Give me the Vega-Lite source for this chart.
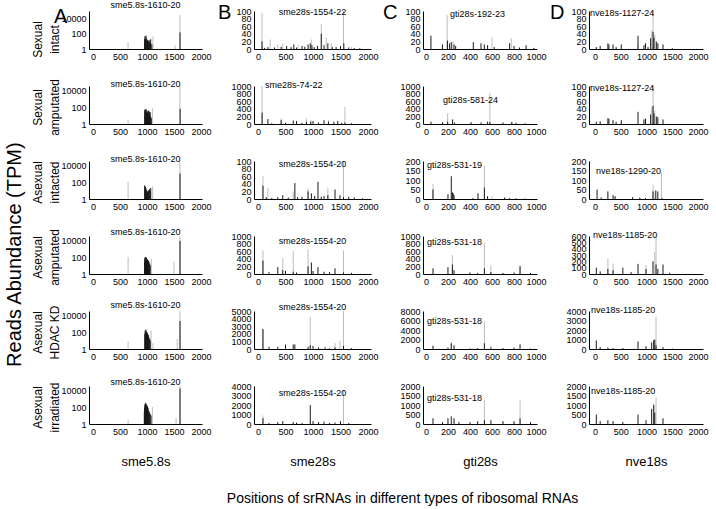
{
"$schema": "https://vega.github.io/schema/vega-lite/v6.json",
"padding": {"left": 4, "top": 1, "right": 2, "bottom": 2},
"config": {
  "font": "Liberation Sans",
  "view": {"stroke": null},
  "axis": {"grid": false, "ticks": false, "labelFontSize": 9, "labelPadding": 3, "domainColor": "#000", "labelColor": "#000", "titleColor": "#000", "titleFontWeight": "normal", "labelOverlap": false, "labelFlush": false, "labelFont": "Liberation Sans", "titleFont": "Liberation Sans", "format": "d"},
  "axisY": {"titleFontSize": 12, "titleLineHeight": 17, "titleX": -52, "titleY": 21, "titleAlign": "center", "titleBaseline": "middle", "titleAngle": 270},
  "axisX": {"titleFontSize": 13, "titlePadding": 19},
  "title": {"fontSize": 9, "fontWeight": "normal", "color": "#000", "font": "Liberation Sans"}
},
"datasets": {
"A1": [{"x":650,"y":8,"s":"g"},{"x":1075,"y":25,"s":"g"},{"x":1110,"y":45,"s":"g"},{"x":1520,"y":3,"s":"g"},{"x":1610,"y":30000,"s":"g"},
 {"x":955,"y":20,"s":"k"},{"x":962,"y":50,"s":"k"},{"x":968,"y":15,"s":"k"},{"x":975,"y":30,"s":"k"},{"x":982,"y":60,"s":"k"},{"x":988,"y":12,"s":"k"},{"x":995,"y":25,"s":"k"},{"x":1002,"y":8,"s":"k"},{"x":1010,"y":15,"s":"k"},{"x":1018,"y":6,"s":"k"},{"x":1025,"y":12,"s":"k"},{"x":1032,"y":10,"s":"k"},{"x":1040,"y":14,"s":"k"},{"x":1048,"y":5,"s":"k"},{"x":1055,"y":8,"s":"k"},{"x":1062,"y":18,"s":"k"},{"x":1070,"y":6,"s":"k"},{"x":1090,"y":4,"s":"k"},{"x":1612,"y":150,"s":"k"}],
"A2": [{"x":650,"y":3,"s":"g"},{"x":1100,"y":70,"s":"g"},{"x":1610,"y":30000,"s":"g"},
 {"x":958,"y":40,"s":"k"},{"x":963,"y":55,"s":"k"},{"x":970,"y":25,"s":"k"},{"x":977,"y":45,"s":"k"},{"x":984,"y":60,"s":"k"},{"x":990,"y":20,"s":"k"},{"x":996,"y":35,"s":"k"},{"x":1003,"y":15,"s":"k"},{"x":1010,"y":30,"s":"k"},{"x":1017,"y":25,"s":"k"},{"x":1024,"y":40,"s":"k"},{"x":1031,"y":20,"s":"k"},{"x":1038,"y":15,"s":"k"},{"x":1045,"y":30,"s":"k"},{"x":1052,"y":10,"s":"k"},{"x":1060,"y":25,"s":"k"},{"x":1068,"y":8,"s":"k"},{"x":1080,"y":5,"s":"k"},{"x":1614,"y":60,"s":"k"}],
"A3": [{"x":650,"y":100,"s":"g"},{"x":1105,"y":30,"s":"g"},{"x":1610,"y":30000,"s":"g"},
 {"x":958,"y":40,"s":"k"},{"x":963,"y":25,"s":"k"},{"x":968,"y":30,"s":"k"},{"x":974,"y":15,"s":"k"},{"x":980,"y":20,"s":"k"},{"x":987,"y":10,"s":"k"},{"x":993,"y":12,"s":"k"},{"x":1000,"y":6,"s":"k"},{"x":1010,"y":8,"s":"k"},{"x":1020,"y":5,"s":"k"},{"x":1030,"y":10,"s":"k"},{"x":1040,"y":12,"s":"k"},{"x":1050,"y":15,"s":"k"},{"x":1060,"y":8,"s":"k"},{"x":1070,"y":20,"s":"k"},{"x":1612,"y":1000,"s":"k"}],
"A4": [{"x":650,"y":100,"s":"g"},{"x":1080,"y":60,"s":"g"},{"x":1500,"y":30,"s":"g"},{"x":1610,"y":30000,"s":"g"},
 {"x":955,"y":30,"s":"k"},{"x":960,"y":80,"s":"k"},{"x":965,"y":50,"s":"k"},{"x":970,"y":100,"s":"k"},{"x":975,"y":40,"s":"k"},{"x":980,"y":70,"s":"k"},{"x":985,"y":30,"s":"k"},{"x":990,"y":90,"s":"k"},{"x":995,"y":40,"s":"k"},{"x":1000,"y":60,"s":"k"},{"x":1005,"y":25,"s":"k"},{"x":1010,"y":50,"s":"k"},{"x":1015,"y":30,"s":"k"},{"x":1020,"y":40,"s":"k"},{"x":1025,"y":20,"s":"k"},{"x":1030,"y":35,"s":"k"},{"x":1040,"y":25,"s":"k"},{"x":1050,"y":15,"s":"k"},{"x":1060,"y":10,"s":"k"},{"x":1612,"y":8000,"s":"k"}],
"A5": [{"x":650,"y":8,"s":"g"},{"x":1075,"y":150,"s":"g"},{"x":1110,"y":5,"s":"g"},{"x":1560,"y":15,"s":"g"},{"x":1610,"y":30000,"s":"g"},
 {"x":960,"y":60,"s":"k"},{"x":965,"y":150,"s":"k"},{"x":970,"y":40,"s":"k"},{"x":975,"y":100,"s":"k"},{"x":980,"y":200,"s":"k"},{"x":985,"y":80,"s":"k"},{"x":990,"y":120,"s":"k"},{"x":995,"y":50,"s":"k"},{"x":1000,"y":90,"s":"k"},{"x":1005,"y":40,"s":"k"},{"x":1010,"y":70,"s":"k"},{"x":1015,"y":30,"s":"k"},{"x":1020,"y":50,"s":"k"},{"x":1025,"y":25,"s":"k"},{"x":1030,"y":40,"s":"k"},{"x":1040,"y":20,"s":"k"},{"x":1050,"y":15,"s":"k"},{"x":1060,"y":10,"s":"k"},{"x":1612,"y":2000,"s":"k"}],
"A6": [{"x":650,"y":3,"s":"g"},{"x":1100,"y":100,"s":"g"},{"x":1540,"y":5,"s":"g"},{"x":1610,"y":30000,"s":"g"},
 {"x":950,"y":30,"s":"k"},{"x":955,"y":80,"s":"k"},{"x":960,"y":200,"s":"k"},{"x":965,"y":100,"s":"k"},{"x":970,"y":300,"s":"k"},{"x":975,"y":150,"s":"k"},{"x":980,"y":250,"s":"k"},{"x":985,"y":90,"s":"k"},{"x":990,"y":200,"s":"k"},{"x":995,"y":80,"s":"k"},{"x":1000,"y":150,"s":"k"},{"x":1005,"y":60,"s":"k"},{"x":1010,"y":120,"s":"k"},{"x":1015,"y":50,"s":"k"},{"x":1020,"y":80,"s":"k"},{"x":1030,"y":40,"s":"k"},{"x":1040,"y":30,"s":"k"},{"x":1050,"y":20,"s":"k"},{"x":1060,"y":15,"s":"k"},{"x":1075,"y":10,"s":"k"},{"x":1612,"y":15000,"s":"k"}],
"B1": [{"x":73,"y":95,"s":"g"},{"x":220,"y":25,"s":"g"},{"x":360,"y":12,"s":"g"},{"x":450,"y":15,"s":"g"},{"x":730,"y":10,"s":"g"},{"x":970,"y":25,"s":"g"},{"x":1150,"y":65,"s":"g"},{"x":1240,"y":30,"s":"g"},{"x":1330,"y":15,"s":"g"},{"x":1554,"y":140,"s":"g"},{"x":1700,"y":5,"s":"g"},
 {"x":73,"y":20,"s":"k"},{"x":120,"y":3,"s":"k"},{"x":180,"y":5,"s":"k"},{"x":300,"y":4,"s":"k"},{"x":420,"y":6,"s":"k"},{"x":520,"y":8,"s":"k"},{"x":600,"y":5,"s":"k"},{"x":650,"y":12,"s":"k"},{"x":700,"y":4,"s":"k"},{"x":800,"y":8,"s":"k"},{"x":850,"y":6,"s":"k"},{"x":910,"y":12,"s":"k"},{"x":950,"y":15,"s":"k"},{"x":980,"y":10,"s":"k"},{"x":1020,"y":5,"s":"k"},{"x":1080,"y":8,"s":"k"},{"x":1150,"y":40,"s":"k"},{"x":1200,"y":10,"s":"k"},{"x":1270,"y":15,"s":"k"},{"x":1350,"y":5,"s":"k"},{"x":1420,"y":5,"s":"k"},{"x":1500,"y":8,"s":"k"},{"x":1560,"y":15,"s":"k"},{"x":1650,"y":4,"s":"k"},{"x":1750,"y":3,"s":"k"},{"x":1850,"y":2,"s":"k"}],
"B2": [{"x":74,"y":1000,"s":"g"},{"x":420,"y":150,"s":"g"},{"x":880,"y":150,"s":"g"},{"x":960,"y":100,"s":"g"},{"x":1280,"y":110,"s":"g"},{"x":1580,"y":450,"s":"g"},
 {"x":74,"y":300,"s":"k"},{"x":180,"y":130,"s":"k"},{"x":250,"y":20,"s":"k"},{"x":420,"y":100,"s":"k"},{"x":500,"y":30,"s":"k"},{"x":640,"y":90,"s":"k"},{"x":700,"y":80,"s":"k"},{"x":800,"y":30,"s":"k"},{"x":880,"y":60,"s":"k"},{"x":960,"y":60,"s":"k"},{"x":1000,"y":80,"s":"k"},{"x":1100,"y":40,"s":"k"},{"x":1200,"y":100,"s":"k"},{"x":1280,"y":60,"s":"k"},{"x":1380,"y":60,"s":"k"},{"x":1450,"y":80,"s":"k"},{"x":1520,"y":30,"s":"k"},{"x":1580,"y":40,"s":"k"},{"x":1700,"y":20,"s":"k"}],
"B3": [{"x":90,"y":60,"s":"g"},{"x":180,"y":30,"s":"g"},{"x":640,"y":20,"s":"g"},{"x":910,"y":28,"s":"g"},{"x":1270,"y":28,"s":"g"},{"x":1554,"y":100,"s":"g"},
 {"x":90,"y":35,"s":"k"},{"x":150,"y":5,"s":"k"},{"x":250,"y":3,"s":"k"},{"x":360,"y":5,"s":"k"},{"x":450,"y":10,"s":"k"},{"x":550,"y":4,"s":"k"},{"x":670,"y":42,"s":"k"},{"x":720,"y":5,"s":"k"},{"x":800,"y":6,"s":"k"},{"x":910,"y":20,"s":"k"},{"x":970,"y":15,"s":"k"},{"x":1030,"y":8,"s":"k"},{"x":1090,"y":45,"s":"k"},{"x":1150,"y":6,"s":"k"},{"x":1200,"y":8,"s":"k"},{"x":1270,"y":10,"s":"k"},{"x":1400,"y":25,"s":"k"},{"x":1490,"y":10,"s":"k"},{"x":1554,"y":5,"s":"k"},{"x":1650,"y":6,"s":"k"},{"x":1750,"y":4,"s":"k"},{"x":1900,"y":2,"s":"k"}],
"B4": [{"x":90,"y":620,"s":"g"},{"x":450,"y":420,"s":"g"},{"x":640,"y":600,"s":"g"},{"x":910,"y":650,"s":"g"},{"x":1554,"y":620,"s":"g"},
 {"x":90,"y":350,"s":"k"},{"x":200,"y":50,"s":"k"},{"x":360,"y":180,"s":"k"},{"x":450,"y":100,"s":"k"},{"x":500,"y":80,"s":"k"},{"x":640,"y":60,"s":"k"},{"x":700,"y":40,"s":"k"},{"x":910,"y":200,"s":"k"},{"x":970,"y":300,"s":"k"},{"x":1000,"y":80,"s":"k"},{"x":1090,"y":180,"s":"k"},{"x":1200,"y":60,"s":"k"},{"x":1300,"y":50,"s":"k"},{"x":1400,"y":150,"s":"k"},{"x":1554,"y":40,"s":"k"},{"x":1700,"y":30,"s":"k"}],
"B5": [{"x":90,"y":2700,"s":"g"},{"x":950,"y":4200,"s":"g"},{"x":1400,"y":800,"s":"g"},{"x":1490,"y":1100,"s":"g"},{"x":1554,"y":5000,"s":"g"},
 {"x":90,"y":2600,"s":"k"},{"x":200,"y":300,"s":"k"},{"x":360,"y":300,"s":"k"},{"x":500,"y":600,"s":"k"},{"x":640,"y":600,"s":"k"},{"x":670,"y":600,"s":"k"},{"x":910,"y":300,"s":"k"},{"x":950,"y":500,"s":"k"},{"x":1000,"y":400,"s":"k"},{"x":1100,"y":200,"s":"k"},{"x":1220,"y":200,"s":"k"},{"x":1300,"y":100,"s":"k"},{"x":1400,"y":200,"s":"k"},{"x":1554,"y":400,"s":"k"},{"x":1700,"y":100,"s":"k"}],
"B6": [{"x":90,"y":900,"s":"g"},{"x":950,"y":400,"s":"g"},{"x":1554,"y":3600,"s":"g"},
 {"x":90,"y":600,"s":"k"},{"x":200,"y":100,"s":"k"},{"x":360,"y":200,"s":"k"},{"x":450,"y":300,"s":"k"},{"x":640,"y":200,"s":"k"},{"x":700,"y":150,"s":"k"},{"x":800,"y":100,"s":"k"},{"x":950,"y":2000,"s":"k"},{"x":1000,"y":300,"s":"k"},{"x":1100,"y":200,"s":"k"},{"x":1200,"y":250,"s":"k"},{"x":1300,"y":100,"s":"k"},{"x":1400,"y":150,"s":"k"},{"x":1500,"y":300,"s":"k"},{"x":1650,"y":100,"s":"k"}],
"C1": [{"x":192,"y":90,"s":"g"},{"x":245,"y":20,"s":"g"},{"x":600,"y":30,"s":"g"},{"x":775,"y":28,"s":"g"},
 {"x":45,"y":35,"s":"k"},{"x":150,"y":12,"s":"k"},{"x":195,"y":22,"s":"k"},{"x":215,"y":15,"s":"k"},{"x":230,"y":18,"s":"k"},{"x":255,"y":12,"s":"k"},{"x":270,"y":8,"s":"k"},{"x":430,"y":18,"s":"k"},{"x":500,"y":15,"s":"k"},{"x":530,"y":12,"s":"k"},{"x":560,"y":10,"s":"k"},{"x":620,"y":5,"s":"k"},{"x":760,"y":15,"s":"k"},{"x":800,"y":8,"s":"k"},{"x":850,"y":4,"s":"k"},{"x":910,"y":10,"s":"k"},{"x":980,"y":3,"s":"k"}],
"C2": [{"x":197,"y":280,"s":"g"},{"x":581,"y":820,"s":"g"},{"x":780,"y":70,"s":"g"},
 {"x":45,"y":60,"s":"k"},{"x":150,"y":50,"s":"k"},{"x":197,"y":60,"s":"k"},{"x":242,"y":120,"s":"k"},{"x":260,"y":40,"s":"k"},{"x":410,"y":50,"s":"k"},{"x":500,"y":40,"s":"k"},{"x":560,"y":60,"s":"k"},{"x":581,"y":50,"s":"k"},{"x":700,"y":40,"s":"k"},{"x":780,"y":50,"s":"k"},{"x":818,"y":30,"s":"k"},{"x":900,"y":20,"s":"k"}],
"C3": [{"x":64,"y":80,"s":"g"},{"x":531,"y":175,"s":"g"},{"x":600,"y":15,"s":"g"},
 {"x":64,"y":50,"s":"k"},{"x":200,"y":25,"s":"k"},{"x":230,"y":120,"s":"k"},{"x":240,"y":35,"s":"k"},{"x":248,"y":30,"s":"k"},{"x":255,"y":20,"s":"k"},{"x":427,"y":5,"s":"k"},{"x":473,"y":30,"s":"k"},{"x":531,"y":60,"s":"k"},{"x":560,"y":15,"s":"k"},{"x":715,"y":8,"s":"k"},{"x":760,"y":5,"s":"k"},{"x":818,"y":4,"s":"k"},{"x":900,"y":3,"s":"k"}],
"C4": [{"x":240,"y":500,"s":"g"},{"x":531,"y":820,"s":"g"},{"x":590,"y":230,"s":"g"},{"x":855,"y":220,"s":"g"},
 {"x":64,"y":150,"s":"k"},{"x":200,"y":180,"s":"k"},{"x":240,"y":250,"s":"k"},{"x":255,"y":100,"s":"k"},{"x":400,"y":40,"s":"k"},{"x":470,"y":30,"s":"k"},{"x":531,"y":150,"s":"k"},{"x":590,"y":50,"s":"k"},{"x":700,"y":30,"s":"k"},{"x":800,"y":40,"s":"k"},{"x":855,"y":200,"s":"k"},{"x":950,"y":30,"s":"k"}],
"C5": [{"x":230,"y":1500,"s":"g"},{"x":531,"y":5800,"s":"g"},{"x":590,"y":800,"s":"g"},
 {"x":64,"y":700,"s":"k"},{"x":200,"y":300,"s":"k"},{"x":230,"y":1200,"s":"k"},{"x":255,"y":800,"s":"k"},{"x":400,"y":100,"s":"k"},{"x":470,"y":200,"s":"k"},{"x":531,"y":1200,"s":"k"},{"x":590,"y":300,"s":"k"},{"x":700,"y":200,"s":"k"},{"x":800,"y":300,"s":"k"},{"x":855,"y":1000,"s":"k"},{"x":950,"y":100,"s":"k"}],
"C6": [{"x":531,"y":1250,"s":"g"},{"x":855,"y":1250,"s":"g"},
 {"x":64,"y":300,"s":"k"},{"x":150,"y":100,"s":"k"},{"x":200,"y":300,"s":"k"},{"x":230,"y":400,"s":"k"},{"x":255,"y":300,"s":"k"},{"x":300,"y":100,"s":"k"},{"x":400,"y":100,"s":"k"},{"x":470,"y":150,"s":"k"},{"x":531,"y":200,"s":"k"},{"x":590,"y":200,"s":"k"},{"x":700,"y":150,"s":"k"},{"x":800,"y":150,"s":"k"},{"x":855,"y":300,"s":"k"},{"x":950,"y":100,"s":"k"}],
"D1": [{"x":835,"y":10,"s":"g"},{"x":1100,"y":50,"s":"g"},{"x":1127,"y":100,"s":"g"},{"x":1160,"y":38,"s":"g"},
 {"x":25,"y":5,"s":"k"},{"x":100,"y":8,"s":"k"},{"x":250,"y":15,"s":"k"},{"x":270,"y":12,"s":"k"},{"x":350,"y":12,"s":"k"},{"x":410,"y":5,"s":"k"},{"x":510,"y":12,"s":"k"},{"x":835,"y":35,"s":"k"},{"x":950,"y":10,"s":"k"},{"x":980,"y":15,"s":"k"},{"x":1030,"y":5,"s":"k"},{"x":1080,"y":28,"s":"k"},{"x":1127,"y":45,"s":"k"},{"x":1145,"y":30,"s":"k"},{"x":1190,"y":20,"s":"k"},{"x":1220,"y":15,"s":"k"},{"x":1320,"y":12,"s":"k"},{"x":1500,"y":2,"s":"k"}],
"D2": [{"x":1100,"y":45,"s":"g"},{"x":1127,"y":100,"s":"g"},{"x":1160,"y":35,"s":"g"},
 {"x":25,"y":6,"s":"k"},{"x":100,"y":7,"s":"k"},{"x":250,"y":15,"s":"k"},{"x":270,"y":14,"s":"k"},{"x":350,"y":10,"s":"k"},{"x":410,"y":6,"s":"k"},{"x":510,"y":10,"s":"k"},{"x":835,"y":32,"s":"k"},{"x":950,"y":12,"s":"k"},{"x":980,"y":14,"s":"k"},{"x":1080,"y":25,"s":"k"},{"x":1127,"y":48,"s":"k"},{"x":1145,"y":28,"s":"k"},{"x":1190,"y":20,"s":"k"},{"x":1220,"y":18,"s":"k"},{"x":1320,"y":12,"s":"k"}],
"D3": [{"x":1126,"y":75,"s":"g"},{"x":1145,"y":40,"s":"g"},{"x":1290,"y":140,"s":"g"},
 {"x":40,"y":50,"s":"k"},{"x":120,"y":8,"s":"k"},{"x":250,"y":40,"s":"k"},{"x":350,"y":20,"s":"k"},{"x":390,"y":15,"s":"k"},{"x":730,"y":10,"s":"k"},{"x":870,"y":8,"s":"k"},{"x":980,"y":5,"s":"k"},{"x":1126,"y":40,"s":"k"},{"x":1180,"y":45,"s":"k"},{"x":1220,"y":40,"s":"k"},{"x":1300,"y":5,"s":"k"}],
"D4": [{"x":250,"y":240,"s":"g"},{"x":350,"y":160,"s":"g"},{"x":990,"y":140,"s":"g"},{"x":1160,"y":350,"s":"g"},{"x":1185,"y":600,"s":"g"},
 {"x":25,"y":100,"s":"k"},{"x":100,"y":40,"s":"k"},{"x":250,"y":80,"s":"k"},{"x":350,"y":60,"s":"k"},{"x":540,"y":100,"s":"k"},{"x":700,"y":30,"s":"k"},{"x":835,"y":160,"s":"k"},{"x":990,"y":80,"s":"k"},{"x":1126,"y":200,"s":"k"},{"x":1185,"y":150,"s":"k"},{"x":1220,"y":80,"s":"k"},{"x":1320,"y":150,"s":"k"},{"x":1450,"y":20,"s":"k"}],
"D5": [{"x":1140,"y":1000,"s":"g"},{"x":1185,"y":3400,"s":"g"},
 {"x":25,"y":900,"s":"k"},{"x":100,"y":200,"s":"k"},{"x":250,"y":150,"s":"k"},{"x":350,"y":100,"s":"k"},{"x":540,"y":100,"s":"k"},{"x":835,"y":800,"s":"k"},{"x":990,"y":300,"s":"k"},{"x":1100,"y":700,"s":"k"},{"x":1140,"y":900,"s":"k"},{"x":1160,"y":1000,"s":"k"},{"x":1185,"y":400,"s":"k"},{"x":1320,"y":200,"s":"k"},{"x":1500,"y":50,"s":"k"}],
"D6": [{"x":1140,"y":1100,"s":"g"},{"x":1185,"y":1400,"s":"g"},
 {"x":25,"y":500,"s":"k"},{"x":100,"y":150,"s":"k"},{"x":250,"y":200,"s":"k"},{"x":350,"y":150,"s":"k"},{"x":540,"y":100,"s":"k"},{"x":835,"y":500,"s":"k"},{"x":990,"y":200,"s":"k"},{"x":1100,"y":800,"s":"k"},{"x":1140,"y":1000,"s":"k"},{"x":1160,"y":600,"s":"k"},{"x":1320,"y":300,"s":"k"}]
},
"title": {"text": "Positions of srRNAs in different types of ribosomal RNAs", "orient": "bottom", "anchor": "middle", "fontSize": 14, "offset": 24, "dx": 46},
"vconcat": [{
 "title": {"text": "Reads Abundance (TPM)", "orient": "left", "anchor": "middle", "fontSize": 20, "offset": 6, "dx": -20},
 "columns": 4,
 "bounds": "flush",
 "spacing": {"row": 37, "column": 52},
 "concat": [
  {"width": 113, "height": 38, "title": {"text": "sme5.8s-1610-20", "frame": "group", "anchor": "middle", "offset": -3.5},
   "layer": [
    {"data": {"name": "A1"}, "mark": {"type": "rule", "clip": true},
     "encoding": {"x": {"field": "x", "type": "quantitative", "scale": {"domain": [-74, 2019], "nice": false, "zero": false}, "axis": {"values": [0,500,1000,1500,2000], "format": "d", "labelOverlap": false, "title": null}},
      "y": {"field": "y", "type": "quantitative", "scale": {"type": "log", "domain": [1, 30000]}, "axis": {"values": [1,100,10000], "format": "d", "labelOverlap": false, "title": ["Sexual", "intact"], "titleY": 28, "titleLineHeight": 17, "encode": {"title": {"update": {"lineHeight": {"value": 17}}}}}},
      "y2": {"datum": 1},
      "color": {"field": "s", "type": "nominal", "scale": {"domain": ["g","k"], "range": ["#bdbdbd","#1a1a1a"]}, "legend": null},
      "order": {"field": "s", "type": "ordinal"}}},
    {"data": {"values": [{"t": "A"}]}, "mark": {"type": "text", "fontSize": 20, "align": "left", "baseline": "middle"},
     "encoding": {"text": {"field": "t"},
      "x": {"datum": -722, "type": "quantitative", "axis": {"values": [0,500,1000,1500,2000], "format": "d", "labelOverlap": false, "title": null}},
      "y": {"datum": 17400, "type": "quantitative", "axis": {"values": [1,100,10000], "format": "d", "labelOverlap": false, "title": ["Sexual", "intact"], "titleY": 28, "titleLineHeight": 17, "encode": {"title": {"update": {"lineHeight": {"value": 17}}}}}}}}
   ]},
  {"width": 117, "height": 38, "title": {"text": "sme28s-1554-22", "frame": "group", "anchor": "middle", "offset": -14.5},
   "layer": [
    {"data": {"name": "B1"}, "mark": {"type": "rule", "clip": true},
     "encoding": {"x": {"field": "x", "type": "quantitative", "scale": {"domain": [-73, 2054], "nice": false, "zero": false}, "axis": {"values": [0,500,1000,1500,2000], "format": "d", "labelOverlap": false, "title": null}},
      "y": {"field": "y", "type": "quantitative", "scale": {"domain": [0, 100], "nice": false}, "axis": {"values": [0,20,40,60,80,100], "format": "d", "labelOverlap": false, "title": null}},
      "y2": {"datum": 0},
      "color": {"field": "s", "type": "nominal", "scale": {"domain": ["g","k"], "range": ["#bdbdbd","#1a1a1a"]}, "legend": null},
      "order": {"field": "s", "type": "ordinal"}}},
    {"data": {"values": [{"t": "B"}]}, "mark": {"type": "text", "fontSize": 20, "align": "left", "baseline": "middle"},
     "encoding": {"text": {"field": "t"},
      "x": {"datum": -728, "type": "quantitative", "axis": {"values": [0,500,1000,1500,2000], "format": "d", "labelOverlap": false, "title": null}},
      "y": {"datum": 95, "type": "quantitative", "axis": {"values": [0,20,40,60,80,100], "format": "d", "labelOverlap": false, "title": null}}}}
   ]},
  {"width": 114, "height": 38, "title": {"text": "gti28s-192-23", "frame": "group", "anchor": "start", "dx": 27, "offset": -16.5},
   "layer": [
    {"data": {"name": "C1"}, "mark": {"type": "rule", "clip": true},
     "encoding": {"x": {"field": "x", "type": "quantitative", "scale": {"domain": [-27, 1009], "nice": false, "zero": false}, "axis": {"values": [0,200,400,600,800,1000], "format": "d", "labelOverlap": false, "title": null}},
      "y": {"field": "y", "type": "quantitative", "scale": {"domain": [0, 100], "nice": false}, "axis": {"values": [0,20,40,60,80,100], "format": "d", "labelOverlap": false, "title": null}},
      "y2": {"datum": 0},
      "color": {"field": "s", "type": "nominal", "scale": {"domain": ["g","k"], "range": ["#bdbdbd","#1a1a1a"]}, "legend": null},
      "order": {"field": "s", "type": "ordinal"}}},
    {"data": {"values": [{"t": "C"}]}, "mark": {"type": "text", "fontSize": 20, "align": "left", "baseline": "middle"},
     "encoding": {"text": {"field": "t"},
      "x": {"datum": -391, "type": "quantitative", "axis": {"values": [0,200,400,600,800,1000], "format": "d", "labelOverlap": false, "title": null}},
      "y": {"datum": 95, "type": "quantitative", "axis": {"values": [0,20,40,60,80,100], "format": "d", "labelOverlap": false, "title": null}}}}
   ]},
  {"width": 114, "height": 38, "title": {"text": "nve18s-1127-24", "frame": "group", "anchor": "start", "dx": 1, "offset": -15.5},
   "layer": [
    {"data": {"name": "D1"}, "mark": {"type": "rule", "clip": true},
     "encoding": {"x": {"field": "x", "type": "quantitative", "scale": {"domain": [-117, 2097], "nice": false, "zero": false}, "axis": {"values": [0,500,1000,1500,2000], "format": "d", "labelOverlap": false, "title": null}},
      "y": {"field": "y", "type": "quantitative", "scale": {"domain": [0, 100], "nice": false}, "axis": {"values": [0,20,40,60,80,100], "format": "d", "labelOverlap": false, "title": null}},
      "y2": {"datum": 0},
      "color": {"field": "s", "type": "nominal", "scale": {"domain": ["g","k"], "range": ["#bdbdbd","#1a1a1a"]}, "legend": null},
      "order": {"field": "s", "type": "ordinal"}}},
    {"data": {"values": [{"t": "D"}]}, "mark": {"type": "text", "fontSize": 20, "align": "left", "baseline": "middle"},
     "encoding": {"text": {"field": "t"},
      "x": {"datum": -874, "type": "quantitative", "axis": {"values": [0,500,1000,1500,2000], "format": "d", "labelOverlap": false, "title": null}},
      "y": {"datum": 95, "type": "quantitative", "axis": {"values": [0,20,40,60,80,100], "format": "d", "labelOverlap": false, "title": null}}}}
   ]},

  {"width": 113, "height": 38, "title": {"text": "sme5.8s-1610-20", "frame": "group", "anchor": "middle", "offset": -9.9},
   "data": {"name": "A2"}, "mark": {"type": "rule", "clip": true},
   "encoding": {"x": {"field": "x", "type": "quantitative", "scale": {"domain": [-74, 2019], "nice": false, "zero": false}, "axis": {"values": [0,500,1000,1500,2000], "format": "d", "labelOverlap": false, "title": null}},
    "y": {"field": "y", "type": "quantitative", "scale": {"type": "log", "domain": [1, 30000]}, "axis": {"values": [1,100,10000], "format": "d", "labelOverlap": false, "title": ["Sexual", "amputated"], "titleLineHeight": 17, "encode": {"title": {"update": {"lineHeight": {"value": 17}}}}}},
    "y2": {"datum": 1},
    "color": {"field": "s", "type": "nominal", "scale": {"domain": ["g","k"], "range": ["#bdbdbd","#1a1a1a"]}, "legend": null},
    "order": {"field": "s", "type": "ordinal"}}},
  {"width": 117, "height": 38, "title": {"text": "sme28s-74-22", "frame": "group", "anchor": "start", "dx": 11, "offset": -7.5},
   "data": {"name": "B2"}, "mark": {"type": "rule", "clip": true},
   "encoding": {"x": {"field": "x", "type": "quantitative", "scale": {"domain": [-73, 2054], "nice": false, "zero": false}, "axis": {"values": [0,500,1000,1500,2000], "format": "d", "labelOverlap": false, "title": null}},
    "y": {"field": "y", "type": "quantitative", "scale": {"domain": [0, 1000], "nice": false}, "axis": {"values": [0,200,400,600,800,1000], "format": "d", "labelOverlap": false, "title": null}},
    "y2": {"datum": 0},
    "color": {"field": "s", "type": "nominal", "scale": {"domain": ["g","k"], "range": ["#bdbdbd","#1a1a1a"]}, "legend": null},
    "order": {"field": "s", "type": "ordinal"}}},
  {"width": 114, "height": 38, "title": {"text": "gti28s-581-24", "frame": "group", "anchor": "start", "dx": 20, "offset": -22.5},
   "data": {"name": "C2"}, "mark": {"type": "rule", "clip": true},
   "encoding": {"x": {"field": "x", "type": "quantitative", "scale": {"domain": [-27, 1009], "nice": false, "zero": false}, "axis": {"values": [0,200,400,600,800,1000], "format": "d", "labelOverlap": false, "title": null}},
    "y": {"field": "y", "type": "quantitative", "scale": {"domain": [0, 1000], "nice": false}, "axis": {"values": [0,200,400,600,800,1000], "format": "d", "labelOverlap": false, "title": null}},
    "y2": {"datum": 0},
    "color": {"field": "s", "type": "nominal", "scale": {"domain": ["g","k"], "range": ["#bdbdbd","#1a1a1a"]}, "legend": null},
    "order": {"field": "s", "type": "ordinal"}}},
  {"width": 114, "height": 38, "title": {"text": "nve18s-1127-24", "frame": "group", "anchor": "start", "dx": 1, "offset": -10.5},
   "data": {"name": "D2"}, "mark": {"type": "rule", "clip": true},
   "encoding": {"x": {"field": "x", "type": "quantitative", "scale": {"domain": [-117, 2097], "nice": false, "zero": false}, "axis": {"values": [0,500,1000,1500,2000], "format": "d", "labelOverlap": false, "title": null}},
    "y": {"field": "y", "type": "quantitative", "scale": {"domain": [0, 100], "nice": false}, "axis": {"values": [0,20,40,60,80,100], "format": "d", "labelOverlap": false, "title": null}},
    "y2": {"datum": 0},
    "color": {"field": "s", "type": "nominal", "scale": {"domain": ["g","k"], "range": ["#bdbdbd","#1a1a1a"]}, "legend": null},
    "order": {"field": "s", "type": "ordinal"}}},

  {"width": 113, "height": 38, "title": {"text": "sme5.8s-1610-20", "frame": "group", "anchor": "middle", "offset": -3},
   "data": {"name": "A3"}, "mark": {"type": "rule", "clip": true},
   "encoding": {"x": {"field": "x", "type": "quantitative", "scale": {"domain": [-74, 2019], "nice": false, "zero": false}, "axis": {"values": [0,500,1000,1500,2000], "format": "d", "labelOverlap": false, "title": null}},
    "y": {"field": "y", "type": "quantitative", "scale": {"type": "log", "domain": [1, 30000]}, "axis": {"values": [1,100,10000], "format": "d", "labelOverlap": false, "title": ["Asexual", "intacted"], "titleLineHeight": 17, "encode": {"title": {"update": {"lineHeight": {"value": 17}}}}}},
    "y2": {"datum": 1},
    "color": {"field": "s", "type": "nominal", "scale": {"domain": ["g","k"], "range": ["#bdbdbd","#1a1a1a"]}, "legend": null},
    "order": {"field": "s", "type": "ordinal"}}},
  {"width": 117, "height": 38, "title": {"text": "sme28s-1554-20", "frame": "group", "anchor": "middle", "offset": -11.5},
   "data": {"name": "B3"}, "mark": {"type": "rule", "clip": true},
   "encoding": {"x": {"field": "x", "type": "quantitative", "scale": {"domain": [-73, 2054], "nice": false, "zero": false}, "axis": {"values": [0,500,1000,1500,2000], "format": "d", "labelOverlap": false, "title": null}},
    "y": {"field": "y", "type": "quantitative", "scale": {"domain": [0, 100], "nice": false}, "axis": {"values": [0,20,40,60,80,100], "format": "d", "labelOverlap": false, "title": null}},
    "y2": {"datum": 0},
    "color": {"field": "s", "type": "nominal", "scale": {"domain": ["g","k"], "range": ["#bdbdbd","#1a1a1a"]}, "legend": null},
    "order": {"field": "s", "type": "ordinal"}}},
  {"width": 114, "height": 38, "title": {"text": "gti28s-531-19", "frame": "group", "anchor": "start", "dx": 4, "offset": -12.5},
   "data": {"name": "C3"}, "mark": {"type": "rule", "clip": true},
   "encoding": {"x": {"field": "x", "type": "quantitative", "scale": {"domain": [-27, 1009], "nice": false, "zero": false}, "axis": {"values": [0,200,400,600,800,1000], "format": "d", "labelOverlap": false, "title": null}},
    "y": {"field": "y", "type": "quantitative", "scale": {"domain": [0, 200], "nice": false}, "axis": {"values": [0,50,100,150,200], "format": "d", "labelOverlap": false, "title": null}},
    "y2": {"datum": 0},
    "color": {"field": "s", "type": "nominal", "scale": {"domain": ["g","k"], "range": ["#bdbdbd","#1a1a1a"]}, "legend": null},
    "order": {"field": "s", "type": "ordinal"}}},
  {"width": 114, "height": 38, "title": {"text": "nve18s-1290-20", "frame": "group", "anchor": "start", "dx": 7, "offset": -18.5},
   "data": {"name": "D3"}, "mark": {"type": "rule", "clip": true},
   "encoding": {"x": {"field": "x", "type": "quantitative", "scale": {"domain": [-117, 2097], "nice": false, "zero": false}, "axis": {"values": [0,500,1000,1500,2000], "format": "d", "labelOverlap": false, "title": null}},
    "y": {"field": "y", "type": "quantitative", "scale": {"domain": [0, 200], "nice": false}, "axis": {"values": [0,50,100,150,200], "format": "d", "labelOverlap": false, "title": null}},
    "y2": {"datum": 0},
    "color": {"field": "s", "type": "nominal", "scale": {"domain": ["g","k"], "range": ["#bdbdbd","#1a1a1a"]}, "legend": null},
    "order": {"field": "s", "type": "ordinal"}}},

  {"width": 113, "height": 38, "title": {"text": "sme5.8s-1610-20", "frame": "group", "anchor": "middle", "offset": -7.9},
   "data": {"name": "A4"}, "mark": {"type": "rule", "clip": true},
   "encoding": {"x": {"field": "x", "type": "quantitative", "scale": {"domain": [-74, 2019], "nice": false, "zero": false}, "axis": {"values": [0,500,1000,1500,2000], "format": "d", "labelOverlap": false, "title": null}},
    "y": {"field": "y", "type": "quantitative", "scale": {"type": "log", "domain": [1, 30000]}, "axis": {"values": [1,100,10000], "format": "d", "labelOverlap": false, "title": ["Asexual", "amputated"], "titleLineHeight": 17, "encode": {"title": {"update": {"lineHeight": {"value": 17}}}}}},
    "y2": {"datum": 1},
    "color": {"field": "s", "type": "nominal", "scale": {"domain": ["g","k"], "range": ["#bdbdbd","#1a1a1a"]}, "legend": null},
    "order": {"field": "s", "type": "ordinal"}}},
  {"width": 117, "height": 38, "title": {"text": "sme28s-1554-20", "frame": "group", "anchor": "middle", "offset": -13.5},
   "data": {"name": "B4"}, "mark": {"type": "rule", "clip": true},
   "encoding": {"x": {"field": "x", "type": "quantitative", "scale": {"domain": [-73, 2054], "nice": false, "zero": false}, "axis": {"values": [0,500,1000,1500,2000], "format": "d", "labelOverlap": false, "title": null}},
    "y": {"field": "y", "type": "quantitative", "scale": {"domain": [0, 1000], "nice": false}, "axis": {"values": [0,200,400,600,800,1000], "format": "d", "labelOverlap": false, "title": null}},
    "y2": {"datum": 0},
    "color": {"field": "s", "type": "nominal", "scale": {"domain": ["g","k"], "range": ["#bdbdbd","#1a1a1a"]}, "legend": null},
    "order": {"field": "s", "type": "ordinal"}}},
  {"width": 114, "height": 38, "title": {"text": "gti28s-531-18", "frame": "group", "anchor": "start", "dx": 4, "offset": -14.5},
   "data": {"name": "C4"}, "mark": {"type": "rule", "clip": true},
   "encoding": {"x": {"field": "x", "type": "quantitative", "scale": {"domain": [-27, 1009], "nice": false, "zero": false}, "axis": {"values": [0,200,400,600,800,1000], "format": "d", "labelOverlap": false, "title": null}},
    "y": {"field": "y", "type": "quantitative", "scale": {"domain": [0, 1000], "nice": false}, "axis": {"values": [0,200,400,600,800,1000], "format": "d", "labelOverlap": false, "title": null}},
    "y2": {"datum": 0},
    "color": {"field": "s", "type": "nominal", "scale": {"domain": ["g","k"], "range": ["#bdbdbd","#1a1a1a"]}, "legend": null},
    "order": {"field": "s", "type": "ordinal"}}},
  {"width": 114, "height": 38, "title": {"text": "nve18s-1185-20", "frame": "group", "anchor": "start", "dx": 4, "offset": -8},
   "data": {"name": "D4"}, "mark": {"type": "rule", "clip": true},
   "encoding": {"x": {"field": "x", "type": "quantitative", "scale": {"domain": [-117, 2097], "nice": false, "zero": false}, "axis": {"values": [0,500,1000,1500,2000], "format": "d", "labelOverlap": false, "title": null}},
    "y": {"field": "y", "type": "quantitative", "scale": {"domain": [0, 600], "nice": false}, "axis": {"values": [0,100,200,300,400,500,600], "format": "d", "labelOverlap": false, "title": null}},
    "y2": {"datum": 0},
    "color": {"field": "s", "type": "nominal", "scale": {"domain": ["g","k"], "range": ["#bdbdbd","#1a1a1a"]}, "legend": null},
    "order": {"field": "s", "type": "ordinal"}}},

  {"width": 113, "height": 38, "title": {"text": "sme5.8s-1610-20", "frame": "group", "anchor": "middle", "offset": -5.5},
   "data": {"name": "A5"}, "mark": {"type": "rule", "clip": true},
   "encoding": {"x": {"field": "x", "type": "quantitative", "scale": {"domain": [-74, 2019], "nice": false, "zero": false}, "axis": {"values": [0,500,1000,1500,2000], "format": "d", "labelOverlap": false, "title": null}},
    "y": {"field": "y", "type": "quantitative", "scale": {"type": "log", "domain": [1, 30000]}, "axis": {"values": [1,100,10000], "format": "d", "labelOverlap": false, "title": ["Asexual", "HDAC KD"], "titleLineHeight": 17, "encode": {"title": {"update": {"lineHeight": {"value": 17}}}}}},
    "y2": {"datum": 1},
    "color": {"field": "s", "type": "nominal", "scale": {"domain": ["g","k"], "range": ["#bdbdbd","#1a1a1a"]}, "legend": null},
    "order": {"field": "s", "type": "ordinal"}}},
  {"width": 117, "height": 38, "title": {"text": "sme28s-1554-20", "frame": "group", "anchor": "middle", "offset": -4.5},
   "data": {"name": "B5"}, "mark": {"type": "rule", "clip": true},
   "encoding": {"x": {"field": "x", "type": "quantitative", "scale": {"domain": [-73, 2054], "nice": false, "zero": false}, "axis": {"values": [0,500,1000,1500,2000], "format": "d", "labelOverlap": false, "title": null}},
    "y": {"field": "y", "type": "quantitative", "scale": {"domain": [0, 5000], "nice": false}, "axis": {"values": [0,1000,2000,3000,4000,5000], "format": "d", "labelOverlap": false, "title": null}},
    "y2": {"datum": 0},
    "color": {"field": "s", "type": "nominal", "scale": {"domain": ["g","k"], "range": ["#bdbdbd","#1a1a1a"]}, "legend": null},
    "order": {"field": "s", "type": "ordinal"}}},
  {"width": 114, "height": 38, "title": {"text": "gti28s-531-18", "frame": "group", "anchor": "start", "dx": 4, "offset": -18.5},
   "data": {"name": "C5"}, "mark": {"type": "rule", "clip": true},
   "encoding": {"x": {"field": "x", "type": "quantitative", "scale": {"domain": [-27, 1009], "nice": false, "zero": false}, "axis": {"values": [0,200,400,600,800,1000], "format": "d", "labelOverlap": false, "title": null}},
    "y": {"field": "y", "type": "quantitative", "scale": {"domain": [0, 8000], "nice": false}, "axis": {"values": [0,2000,4000,6000,8000], "format": "d", "labelOverlap": false, "title": null}},
    "y2": {"datum": 0},
    "color": {"field": "s", "type": "nominal", "scale": {"domain": ["g","k"], "range": ["#bdbdbd","#1a1a1a"]}, "legend": null},
    "order": {"field": "s", "type": "ordinal"}}},
  {"width": 114, "height": 38, "title": {"text": "nve18s-1185-20", "frame": "group", "anchor": "start", "dx": 2, "offset": -8},
   "data": {"name": "D5"}, "mark": {"type": "rule", "clip": true},
   "encoding": {"x": {"field": "x", "type": "quantitative", "scale": {"domain": [-117, 2097], "nice": false, "zero": false}, "axis": {"values": [0,500,1000,1500,2000], "format": "d", "labelOverlap": false, "title": null}},
    "y": {"field": "y", "type": "quantitative", "scale": {"domain": [0, 4000], "nice": false}, "axis": {"values": [0,1000,2000,3000,4000], "format": "d", "labelOverlap": false, "title": null}},
    "y2": {"datum": 0},
    "color": {"field": "s", "type": "nominal", "scale": {"domain": ["g","k"], "range": ["#bdbdbd","#1a1a1a"]}, "legend": null},
    "order": {"field": "s", "type": "ordinal"}}},

  {"width": 113, "height": 38, "title": {"text": "sme5.8s-1610-20", "frame": "group", "anchor": "middle", "offset": -5.5},
   "data": {"name": "A6"}, "mark": {"type": "rule", "clip": true},
   "encoding": {"x": {"field": "x", "type": "quantitative", "scale": {"domain": [-74, 2019], "nice": false, "zero": false}, "axis": {"values": [0,500,1000,1500,2000], "format": "d", "labelOverlap": false, "title": "sme5.8s"}},
    "y": {"field": "y", "type": "quantitative", "scale": {"type": "log", "domain": [1, 30000]}, "axis": {"values": [1,100,10000], "format": "d", "labelOverlap": false, "title": ["Asexual", "irradiated"], "titleLineHeight": 17, "encode": {"title": {"update": {"lineHeight": {"value": 17}}}}}},
    "y2": {"datum": 1},
    "color": {"field": "s", "type": "nominal", "scale": {"domain": ["g","k"], "range": ["#bdbdbd","#1a1a1a"]}, "legend": null},
    "order": {"field": "s", "type": "ordinal"}}},
  {"width": 117, "height": 38, "title": {"text": "sme28s-1554-20", "frame": "group", "anchor": "middle", "offset": -15.5},
   "data": {"name": "B6"}, "mark": {"type": "rule", "clip": true},
   "encoding": {"x": {"field": "x", "type": "quantitative", "scale": {"domain": [-73, 2054], "nice": false, "zero": false}, "axis": {"values": [0,500,1000,1500,2000], "format": "d", "labelOverlap": false, "title": "sme28s"}},
    "y": {"field": "y", "type": "quantitative", "scale": {"domain": [0, 4000], "nice": false}, "axis": {"values": [0,1000,2000,3000,4000], "format": "d", "labelOverlap": false, "title": null}},
    "y2": {"datum": 0},
    "color": {"field": "s", "type": "nominal", "scale": {"domain": ["g","k"], "range": ["#bdbdbd","#1a1a1a"]}, "legend": null},
    "order": {"field": "s", "type": "ordinal"}}},
  {"width": 114, "height": 38, "title": {"text": "gti28s-531-18", "frame": "group", "anchor": "start", "dx": 4, "offset": -20.5},
   "data": {"name": "C6"}, "mark": {"type": "rule", "clip": true},
   "encoding": {"x": {"field": "x", "type": "quantitative", "scale": {"domain": [-27, 1009], "nice": false, "zero": false}, "axis": {"values": [0,200,400,600,800,1000], "format": "d", "labelOverlap": false, "title": "gti28s"}},
    "y": {"field": "y", "type": "quantitative", "scale": {"domain": [0, 2000], "nice": false}, "axis": {"values": [0,500,1000,1500,2000], "format": "d", "labelOverlap": false, "title": null}},
    "y2": {"datum": 0},
    "color": {"field": "s", "type": "nominal", "scale": {"domain": ["g","k"], "range": ["#bdbdbd","#1a1a1a"]}, "legend": null},
    "order": {"field": "s", "type": "ordinal"}}},
  {"width": 114, "height": 38, "title": {"text": "nve18s-1185-20", "frame": "group", "anchor": "start", "dx": 2, "offset": -14},
   "data": {"name": "D6"}, "mark": {"type": "rule", "clip": true},
   "encoding": {"x": {"field": "x", "type": "quantitative", "scale": {"domain": [-117, 2097], "nice": false, "zero": false}, "axis": {"values": [0,500,1000,1500,2000], "format": "d", "labelOverlap": false, "title": "nve18s"}},
    "y": {"field": "y", "type": "quantitative", "scale": {"domain": [0, 2000], "nice": false}, "axis": {"values": [0,500,1000,1500,2000], "format": "d", "labelOverlap": false, "title": null}},
    "y2": {"datum": 0},
    "color": {"field": "s", "type": "nominal", "scale": {"domain": ["g","k"], "range": ["#bdbdbd","#1a1a1a"]}, "legend": null},
    "order": {"field": "s", "type": "ordinal"}}}
 ]
}]
}
